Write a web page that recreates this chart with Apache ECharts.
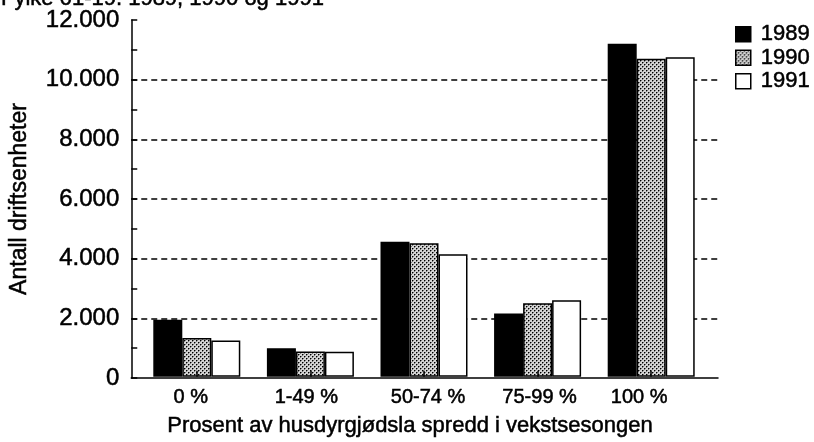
<!DOCTYPE html>
<html>
<head>
<meta charset="utf-8">
<script src="https://cdn.jsdelivr.net/npm/echarts@6/dist/echarts.min.js"></script>
<style>
html,body{margin:0;padding:0;background:#fff;}
#c{width:814px;height:442px;}
</style>
</head>
<body>
<div id="c"></div>
<script>
const titleText = "Fylke 01-19. 1989, 1990 og 1991";
const categories = ["0 %", "1-49 %", "50-74 %", "75-99 %", "100 %"];
const years = ["1989", "1990", "1991"];
const values1989 = [1920, 960, 4540, 2130, 11200];
const values1990 = [1300, 850, 4490, 2470, 10700];
const values1991 = [1220, 840, 4120, 2570, 10750];
const yTicks = [0, 2000, 4000, 6000, 8000, 10000, 12000];
const yName = "Antall driftsenheter";
const xName = "Prosent av husdyrgjødsla spredd i vekstsesongen";

// layout-only: horizontal nudges of category labels (px)
const labelShift = [-6, -4, 4, 2, -12];

const FONT = "'Liberation Sans', Arial, Helvetica, sans-serif";
const INK = {color: '#000', textBorderColor: '#000', textBorderWidth: 0.5};

// stipple pattern for 1990
const pc = document.createElement('canvas');
pc.width = 4; pc.height = 4;
const px = pc.getContext('2d');
px.fillStyle = '#d4d4d4'; px.fillRect(0,0,4,4);
px.fillStyle = '#000';
[[0,0],[2,2]].forEach(p => px.fillRect(p[0],p[1],1,1));
px.fillStyle = '#777';
[[1,0],[0,1],[3,2],[2,3]].forEach(p => px.fillRect(p[0],p[1],1,1));
const stipple = {image: pc, repeat: 'repeat'};

const styles = [
  {color: '#000', borderColor: '#000', borderWidth: 1.5},
  {color: stipple, borderColor: '#000', borderWidth: 1.5},
  {color: '#fff', borderColor: '#000', borderWidth: 1.5}
];
const seriesValues = [values1989, values1990, values1991];

const chart = echarts.init(document.getElementById('c'), null, {renderer: 'canvas'});
const fmt = v => v === 0 ? '0' : (v/1000).toFixed(3);

const catData = categories.map((c, i) => {
  const s = labelShift[i];
  return {value: c, textStyle: {padding: s >= 0 ? [0, 0, 0, 2*s] : [0, -2*s, 0, 0]}};
});

chart.setOption({
  backgroundColor: '#fff',
  animation: false,
  textStyle: {fontFamily: FONT, color: '#000'},
  title: {
    text: titleText, left: -4, top: -17,
    textStyle: Object.assign({fontFamily: FONT, fontSize: 22, fontWeight: 'normal'}, INK)
  },
  legend: {
    orient: 'vertical', left: 730, top: 18,
    icon: 'rect',
    itemWidth: 15, itemHeight: 15, itemGap: 1,
    textStyle: Object.assign({fontFamily: FONT, fontSize: 22, padding: [0, 0, 0, 5]}, INK),
    data: years.map((y, i) => ({name: y, icon: 'rect', itemStyle: styles[i]}))
  },
  grid: [
    {left: 130, right: 96, top: 20, bottom: 64, containLabel: false},
    {left: 140, right: 106, top: 20, bottom: 64, containLabel: false}
  ],
  xAxis: [
    {
      gridIndex: 0, type: 'value', min: 0, max: 1,
      axisLine: {show: true, lineStyle: {color: '#000', width: 1.5}},
      axisTick: {show: false}, axisLabel: {show: false}, splitLine: {show: false}
    },
    {
      gridIndex: 1, type: 'category', data: catData, z: 5,
      axisLine: {show: false},
      axisTick: {show: true, inside: true, alignWithLabel: true, length: 6, lineStyle: {color: '#000', width: 1.5}},
      axisLabel: Object.assign({fontFamily: FONT, fontSize: 20, margin: 11}, INK),
      name: xName, nameLocation: 'middle', nameGap: 38,
      nameTextStyle: Object.assign({fontFamily: FONT, fontSize: 22, padding: [0, 28, 0, 0]}, INK)
    }
  ],
  yAxis: [
    {
      gridIndex: 0, type: 'value', min: yTicks[0], max: yTicks[yTicks.length-1], interval: 2000,
      axisLine: {show: true, lineStyle: {color: '#000', width: 1.5}},
      axisTick: {show: true, inside: true, length: 6, lineStyle: {color: '#000', width: 1.5}},
      minorTick: {show: true, splitNumber: 2, length: 6, lineStyle: {color: '#000', width: 1.5}},
      axisLabel: Object.assign({fontFamily: FONT, fontSize: 24, margin: 12, formatter: fmt}, INK),
      splitLine: {show: true, showMinLine: false, showMaxLine: false, lineStyle: {color: '#000', width: 1.5, type: [6, 4]}},
      name: yName, nameLocation: 'middle', nameGap: 100, nameRotate: 90,
      nameTextStyle: Object.assign({fontFamily: FONT, fontSize: 23}, INK)
    },
    {
      gridIndex: 1, type: 'value', min: yTicks[0], max: yTicks[yTicks.length-1], interval: 2000,
      axisLine: {show: false}, axisTick: {show: false}, axisLabel: {show: false}, splitLine: {show: false}
    }
  ],
  series: years.map((y, i) => ({
    name: y, type: 'bar', xAxisIndex: 1, yAxisIndex: 1,
    data: seriesValues[i],
    barWidth: 29, barGap: '0%',
    itemStyle: styles[i]
  }))
});
</script>
</body>
</html>
